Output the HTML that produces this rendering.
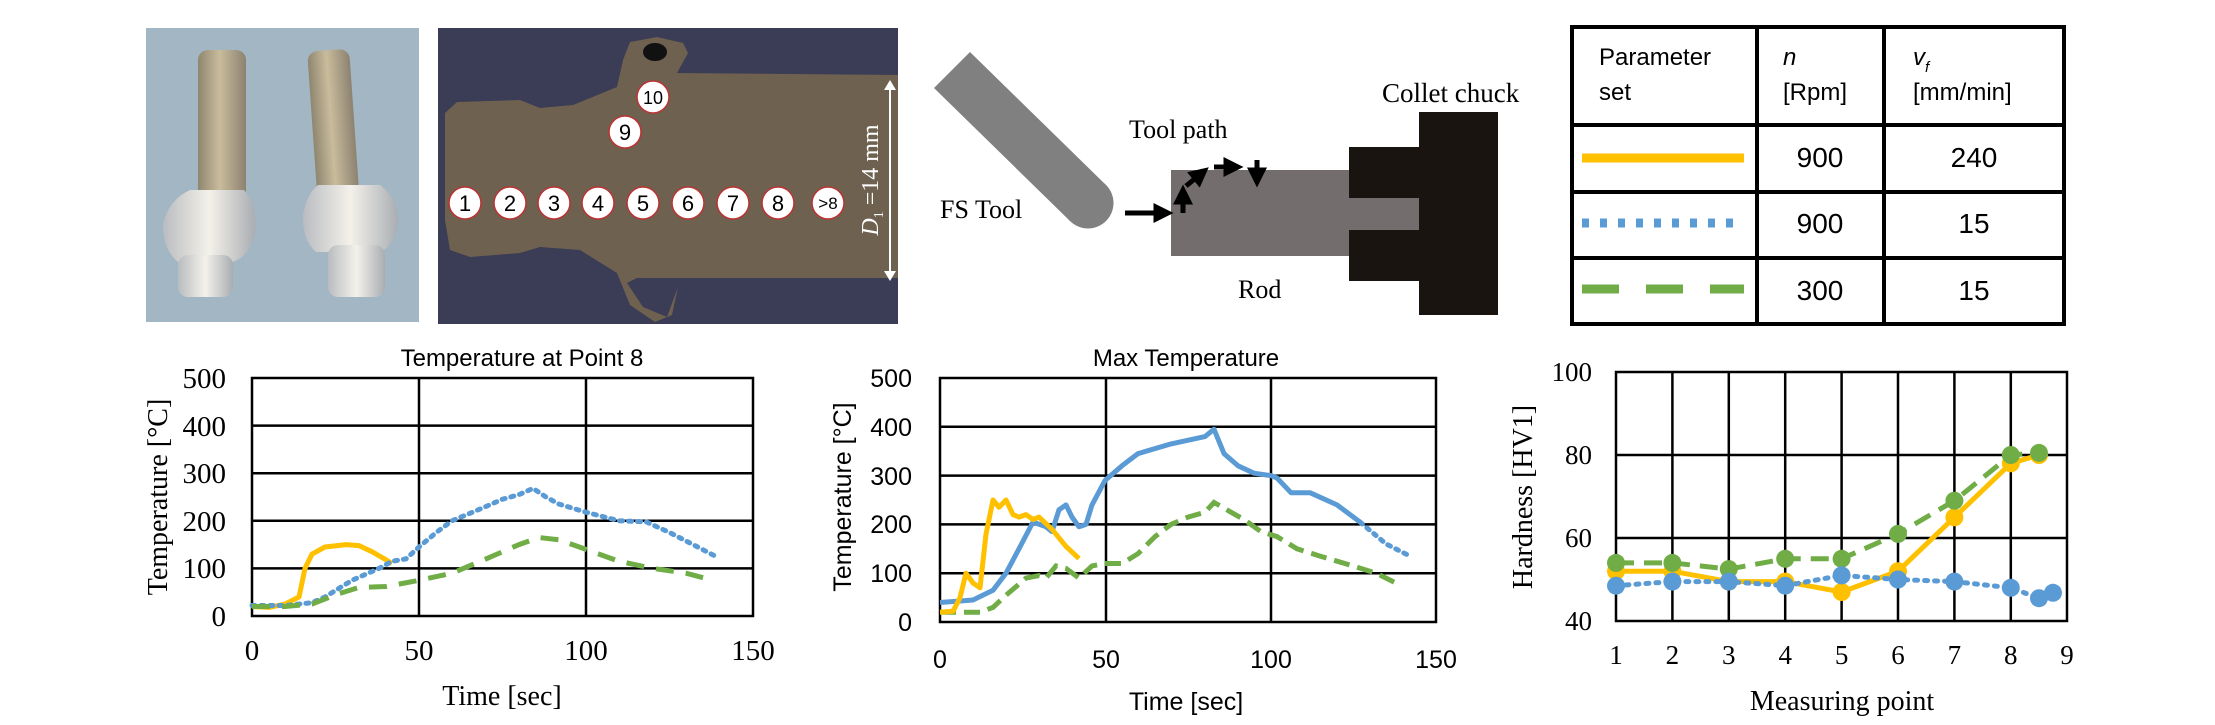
<!DOCTYPE html>
<html><head><meta charset="utf-8"><style>
html,body{margin:0;padding:0;background:#fff;}
svg{display:block;}
.tm{font-family:"Liberation Serif",serif;}
.sn{font-family:"Liberation Sans",sans-serif;}
</style></head><body>
<svg width="2215" height="725" viewBox="0 0 2215 725" xmlns="http://www.w3.org/2000/svg">
<defs>
<linearGradient id="rodg" x1="0" x2="1" y1="0" y2="0">
<stop offset="0" stop-color="#8f8670"/><stop offset="0.45" stop-color="#c9bc9c"/><stop offset="1" stop-color="#8c8270"/></linearGradient>
<linearGradient id="flg" x1="0" x2="1" y1="0" y2="0">
<stop offset="0" stop-color="#b9bcc0"/><stop offset="0.5" stop-color="#f4f1ea"/><stop offset="1" stop-color="#a9adb2"/></linearGradient>
<marker id="ah" markerWidth="4" markerHeight="4" refX="2.5" refY="2" orient="auto" markerUnits="strokeWidth"><path d="M0,0 L4,2 L0,4 z" fill="#000"/></marker>
</defs>

<!-- Photo 1 -->
<rect x="146" y="28" width="273" height="294" fill="#a3b6c3"/>
<rect x="198" y="50" width="48" height="150" rx="10" fill="url(#rodg)"/>
<path d="M190,190 L244,190 Q258,205 255,235 Q248,258 232,262 L178,262 Q163,250 163,225 Q168,200 190,190z" fill="url(#flg)"/>
<rect x="178" y="255" width="55" height="42" rx="10" fill="url(#flg)"/>
<rect x="312" y="50" width="42" height="145" rx="10" fill="url(#rodg)" transform="rotate(-4 333 120)"/>
<path d="M318,185 L380,185 Q400,200 398,225 Q392,250 378,252 L316,252 Q302,240 303,215 Q306,195 318,185z" fill="url(#flg)"/>
<rect x="328" y="245" width="57" height="52" rx="10" fill="url(#flg)"/>

<!-- Photo 2 -->
<rect x="438" y="28" width="460" height="296" fill="#3b3c55"/>
<path d="M445,113 L457,102 L520,100 L540,108 L573,105 L617,87 L623,60 L630,42 L657,37 L683,43 L688,53 L677,73 L898,75 L898,278 L637,278 L627,283 L643,307 L667,317 L678,287 L672,315 L655,322 L630,305 L617,273 L580,250 L540,247 L520,253 L470,257 L450,250 L445,220 Z" fill="#6e6150"/>
<ellipse cx="655" cy="52" rx="12" ry="9" fill="#111"/>
<g font-family="Liberation Sans, sans-serif" font-size="22" text-anchor="middle" fill="#000">
<g fill="#fff" stroke="#b33" stroke-width="1.5">
<circle cx="465" cy="203" r="16"/><circle cx="510" cy="203" r="16"/><circle cx="554" cy="203" r="16"/><circle cx="598" cy="203" r="16"/><circle cx="643" cy="203" r="16"/><circle cx="688" cy="203" r="16"/><circle cx="733" cy="203" r="16"/><circle cx="778" cy="203" r="16"/><circle cx="828" cy="203" r="16"/><circle cx="653" cy="97" r="16"/><circle cx="625" cy="132" r="16"/>
</g>
<text x="465" y="211">1</text><text x="510" y="211">2</text><text x="554" y="211">3</text><text x="598" y="211">4</text><text x="643" y="211">5</text><text x="688" y="211">6</text><text x="733" y="211">7</text><text x="778" y="211">8</text><text x="828" y="209" font-size="17">&gt;8</text><text x="653" y="104" font-size="18">10</text><text x="625" y="140">9</text>
</g>
<line x1="890" y1="88" x2="890" y2="273" stroke="#fff" stroke-width="2"/>
<path d="M884,90 L890,80 L896,90z M884,271 L890,281 L896,271z" fill="#fff"/>
<text class="tm" x="870" y="180" font-size="24" fill="#fff" text-anchor="middle" transform="rotate(-90 870 180)" dy="8"><tspan font-style="italic">D</tspan><tspan font-size="14" dy="5">1</tspan><tspan dy="-5"> =14 mm</tspan></text>

<!-- FS Tool -->
<polygon points="970,52 934,88 1070,221 1106,185" fill="#808080"/>
<circle cx="1088" cy="203" r="25.5" fill="#808080"/>
<text class="tm" x="940" y="218" font-size="26">FS Tool</text>
<text class="tm" x="1129" y="138" font-size="26">Tool path</text>
<text class="tm" x="1238" y="298" font-size="26">Rod</text>
<text class="tm" x="1382" y="102" font-size="27">Collet chuck</text>
<rect x="1171" y="170" width="248" height="86" fill="#736d6d"/>
<path d="M1349,147 L1419,147 L1419,112 L1498,112 L1498,315 L1419,315 L1419,281 L1349,281 L1349,230 L1419,230 L1419,198 L1349,198 Z" fill="#1a1410"/>
<g stroke="#000" stroke-width="5" fill="none" marker-end="url(#ah)">
<line x1="1125" y1="213" x2="1166" y2="213"/>
<line x1="1183" y1="213" x2="1183" y2="192"/>
<line x1="1186" y1="186" x2="1203" y2="172"/>
<line x1="1214" y1="167" x2="1236" y2="167"/>
<line x1="1257" y1="160" x2="1257" y2="180"/>
</g>

<!-- Table -->
<g stroke="#000" stroke-width="4" fill="none">
<rect x="1572" y="27" width="492" height="297"/>
<line x1="1757" y1="27" x2="1757" y2="324"/>
<line x1="1884" y1="27" x2="1884" y2="324"/>
<line x1="1572" y1="125" x2="2064" y2="125"/>
<line x1="1572" y1="192" x2="2064" y2="192"/>
<line x1="1572" y1="258" x2="2064" y2="258"/>
</g>
<g class="sn" font-size="24">
<text x="1599" y="65">Parameter</text><text x="1599" y="100">set</text>
<text x="1783" y="65" font-style="italic">n</text><text x="1783" y="100">[Rpm]</text>
<text x="1913" y="65" font-style="italic">v<tspan font-size="15" dy="7">f</tspan></text><text x="1913" y="100">[mm/min]</text>
</g>
<g class="sn" font-size="28" text-anchor="middle">
<text x="1820" y="167">900</text><text x="1974" y="167">240</text>
<text x="1820" y="233">900</text><text x="1974" y="233">15</text>
<text x="1820" y="300">300</text><text x="1974" y="300">15</text>
</g>
<line x1="1582" y1="158" x2="1744" y2="158" stroke="#ffc000" stroke-width="9"/>
<line x1="1582" y1="223" x2="1740" y2="223" stroke="#5b9bd5" stroke-width="9" stroke-dasharray="7,11"/>
<line x1="1582" y1="289" x2="1744" y2="289" stroke="#70ad47" stroke-width="9" stroke-dasharray="37,27"/>

<!-- Chart 1 -->
<text class="sn" x="522" y="366" font-size="24" text-anchor="middle">Temperature at Point 8</text>
<g stroke="#000" stroke-width="2.5" fill="none">
<rect x="252" y="378" width="501" height="238"/>
<line x1="252" y1="425.6" x2="753" y2="425.6"/><line x1="252" y1="473.2" x2="753" y2="473.2"/><line x1="252" y1="520.8" x2="753" y2="520.8"/><line x1="252" y1="568.4" x2="753" y2="568.4"/>
<line x1="419" y1="378" x2="419" y2="616"/><line x1="586" y1="378" x2="586" y2="616"/>
</g>
<g class="tm" font-size="29" text-anchor="end">
<text x="226" y="388">500</text><text x="226" y="436">400</text><text x="226" y="483">300</text><text x="226" y="531">200</text><text x="226" y="578">100</text><text x="226" y="626">0</text>
</g>
<g class="tm" font-size="29" text-anchor="middle">
<text x="252" y="660">0</text><text x="419" y="660">50</text><text x="586" y="660">100</text><text x="753" y="660">150</text>
</g>
<text class="tm" x="502" y="705" font-size="28" text-anchor="middle">Time [sec]</text>
<text class="tm" x="158" y="497" font-size="28" text-anchor="middle" transform="rotate(-90 158 497)" dy="9">Temperature [°C]</text>
<polyline fill="none" stroke="#ffc000" stroke-width="5" stroke-linejoin="round" points="252,606.5 269,607.4 285,604.1 299,597 305,568.4 312,554.1 325,547 346,544.6 359,545.6 372,551.7 386,559.8 392,563.6"/>
<polyline fill="none" stroke="#5b9bd5" stroke-width="5" stroke-dasharray="3,6" stroke-linecap="round" points="252,605.5 285,605.5 312,602.7 325,597 352,580.3 379,568.4 392,561.3 406,558.9 419,547 436,532.7 452,520.8 469,513.7 486,506.5 502,499.4 519,494.6 533,488.4 546,497 559,504.1 586,512.2 619,520.8 646,521.8 670,532.7 693,544.6 716,556.5"/>
<polyline fill="none" stroke="#70ad47" stroke-width="5" stroke-dasharray="18,12" points="252,606.5 285,606.5 312,604.1 336,594.6 359,587.4 386,586.5 419,580.3 452,573.2 486,558.9 519,544.6 539,537.5 559,539.8 586,549.4 619,561.3 653,568.4 686,573.2 713,580.3"/>

<!-- Chart 2 -->
<text class="sn" x="1186" y="366" font-size="24" text-anchor="middle">Max Temperature</text>
<g stroke="#000" stroke-width="2.5" fill="none">
<rect x="940" y="378" width="496" height="244"/>
<line x1="940" y1="426.8" x2="1436" y2="426.8"/><line x1="940" y1="475.6" x2="1436" y2="475.6"/><line x1="940" y1="524.4" x2="1436" y2="524.4"/><line x1="940" y1="573.2" x2="1436" y2="573.2"/>
<line x1="1106" y1="378" x2="1106" y2="622"/><line x1="1271" y1="378" x2="1271" y2="622"/>
</g>
<g class="sn" font-size="25" text-anchor="end">
<text x="912" y="387">500</text><text x="912" y="436">400</text><text x="912" y="485">300</text><text x="912" y="533">200</text><text x="912" y="582">100</text><text x="912" y="631">0</text>
</g>
<g class="sn" font-size="25" text-anchor="middle">
<text x="940" y="668">0</text><text x="1106" y="668">50</text><text x="1271" y="668">100</text><text x="1436" y="668">150</text>
</g>
<text class="sn" x="1186" y="710" font-size="25" text-anchor="middle">Time [sec]</text>
<text class="sn" x="842" y="497" font-size="25" text-anchor="middle" transform="rotate(-90 842 497)" dy="9">Temperature [°C]</text>
<polyline fill="none" stroke="#5b9bd5" stroke-width="5" stroke-linejoin="round" points="940,602.5 973,600 993,590.3 1006,573.2 1019,548.8 1033,522 1046,526.8 1052,531.7 1059,509.8 1066,504.9 1072,517.1 1079,526.8 1086,524.4 1092,504.9 1105,480.5 1122,465.8 1138,453.6 1171,443.9 1205,436.6 1214,429.2 1224,453.6 1238,465.8 1254,473.2 1271,475.6 1277,478 1291,492.7 1310,492.7 1337,504.9 1360,522"/>
<polyline fill="none" stroke="#5b9bd5" stroke-width="5" stroke-dasharray="3,6" stroke-linecap="round" points="1360,522 1386,543.9 1410,556.1"/>
<polyline fill="none" stroke="#70ad47" stroke-width="5" stroke-dasharray="16,8" points="940,612.2 980,612.2 993,607.4 1006,595.2 1026,578.1 1039,575.6 1046,578.1 1056,565.9 1066,568.4 1079,578.1 1092,565.9 1105,563.5 1122,563.5 1138,553.7 1155,536.6 1171,524.4 1188,517.1 1205,512.2 1214,502.4 1231,512.2 1244,519.5 1261,531.7 1277,536.6 1297,548.8 1320,556.1 1353,565.9 1376,573.2 1396,583"/>
<polyline fill="none" stroke="#ffc000" stroke-width="5" stroke-linejoin="round" points="940,612.2 953,611.3 960,597.6 966,573.2 973,583 980,587.8 986,534.2 993,500 999,507.3 1006,500 1013,514.6 1019,517.1 1026,514.6 1033,519.5 1039,517.1 1052,529.3 1066,546.4 1079,558.6"/>

<!-- Chart 3 -->
<g stroke="#000" stroke-width="2.5" fill="none">
<rect x="1616" y="372" width="451" height="249"/>
<line x1="1616" y1="455" x2="2067" y2="455"/><line x1="1616" y1="538" x2="2067" y2="538"/>
<line x1="1672.4" y1="372" x2="1672.4" y2="621"/><line x1="1728.8" y1="372" x2="1728.8" y2="621"/><line x1="1785.2" y1="372" x2="1785.2" y2="621"/><line x1="1841.6" y1="372" x2="1841.6" y2="621"/><line x1="1898" y1="372" x2="1898" y2="621"/><line x1="1954.4" y1="372" x2="1954.4" y2="621"/><line x1="2010.8" y1="372" x2="2010.8" y2="621"/>
</g>
<g class="tm" font-size="27" text-anchor="end">
<text x="1592" y="381">100</text><text x="1592" y="464">80</text><text x="1592" y="547">60</text><text x="1592" y="630">40</text>
</g>
<g class="tm" font-size="27" text-anchor="middle">
<text x="1616" y="664">1</text><text x="1672.4" y="664">2</text><text x="1728.8" y="664">3</text><text x="1785.2" y="664">4</text><text x="1841.6" y="664">5</text><text x="1898" y="664">6</text><text x="1954.4" y="664">7</text><text x="2010.8" y="664">8</text><text x="2067" y="664">9</text>
</g>
<text class="tm" x="1842" y="710" font-size="28" text-anchor="middle">Measuring point</text>
<text class="tm" x="1523" y="497" font-size="28" text-anchor="middle" transform="rotate(-90 1523 497)" dy="9">Hardness [HV1]</text>
<g fill="#ffc000">
<polyline fill="none" stroke="#ffc000" stroke-width="5" points="1616,571.2 1672.4,571.2 1728.8,581.6 1785.2,581.6 1841.6,592 1898,571.2 1954.4,517.3 2010.8,463.3 2039,455"/>
<circle cx="1616" cy="571.2" r="9"/><circle cx="1672.4" cy="571.2" r="9"/><circle cx="1728.8" cy="581.6" r="9"/><circle cx="1785.2" cy="581.6" r="9"/><circle cx="1841.6" cy="592" r="9"/><circle cx="1898" cy="571.2" r="9"/><circle cx="1954.4" cy="517.3" r="9"/><circle cx="2010.8" cy="463.3" r="9"/><circle cx="2039" cy="455" r="9"/>
</g>
<g fill="#70ad47">
<polyline fill="none" stroke="#70ad47" stroke-width="5" stroke-dasharray="18,10" points="1616,562.9 1672.4,562.9 1728.8,569.1 1785.2,558.8 1841.6,558.8 1898,533.9 1954.4,500.7 2010.8,455 2039,452.9"/>
<circle cx="1616" cy="562.9" r="9"/><circle cx="1672.4" cy="562.9" r="9"/><circle cx="1728.8" cy="569.1" r="9"/><circle cx="1785.2" cy="558.8" r="9"/><circle cx="1841.6" cy="558.8" r="9"/><circle cx="1898" cy="533.9" r="9"/><circle cx="1954.4" cy="500.7" r="9"/><circle cx="2010.8" cy="455" r="9"/><circle cx="2039" cy="452.9" r="9"/>
</g>
<g fill="#5b9bd5">
<polyline fill="none" stroke="#5b9bd5" stroke-width="5" stroke-dasharray="3,7" stroke-linecap="round" points="1616,585.7 1672.4,581.6 1728.8,581.6 1785.2,585.7 1841.6,575.4 1898,579.5 1954.4,581.6 2010.8,587.8 2039,598.2 2053,592.8"/>
<circle cx="1616" cy="585.7" r="9"/><circle cx="1672.4" cy="581.6" r="9"/><circle cx="1728.8" cy="581.6" r="9"/><circle cx="1785.2" cy="585.7" r="9"/><circle cx="1841.6" cy="575.4" r="9"/><circle cx="1898" cy="579.5" r="9"/><circle cx="1954.4" cy="581.6" r="9"/><circle cx="2010.8" cy="587.8" r="9"/><circle cx="2039" cy="598.2" r="9"/><circle cx="2053" cy="592.8" r="9"/>
</g>
</svg>
</body></html>
